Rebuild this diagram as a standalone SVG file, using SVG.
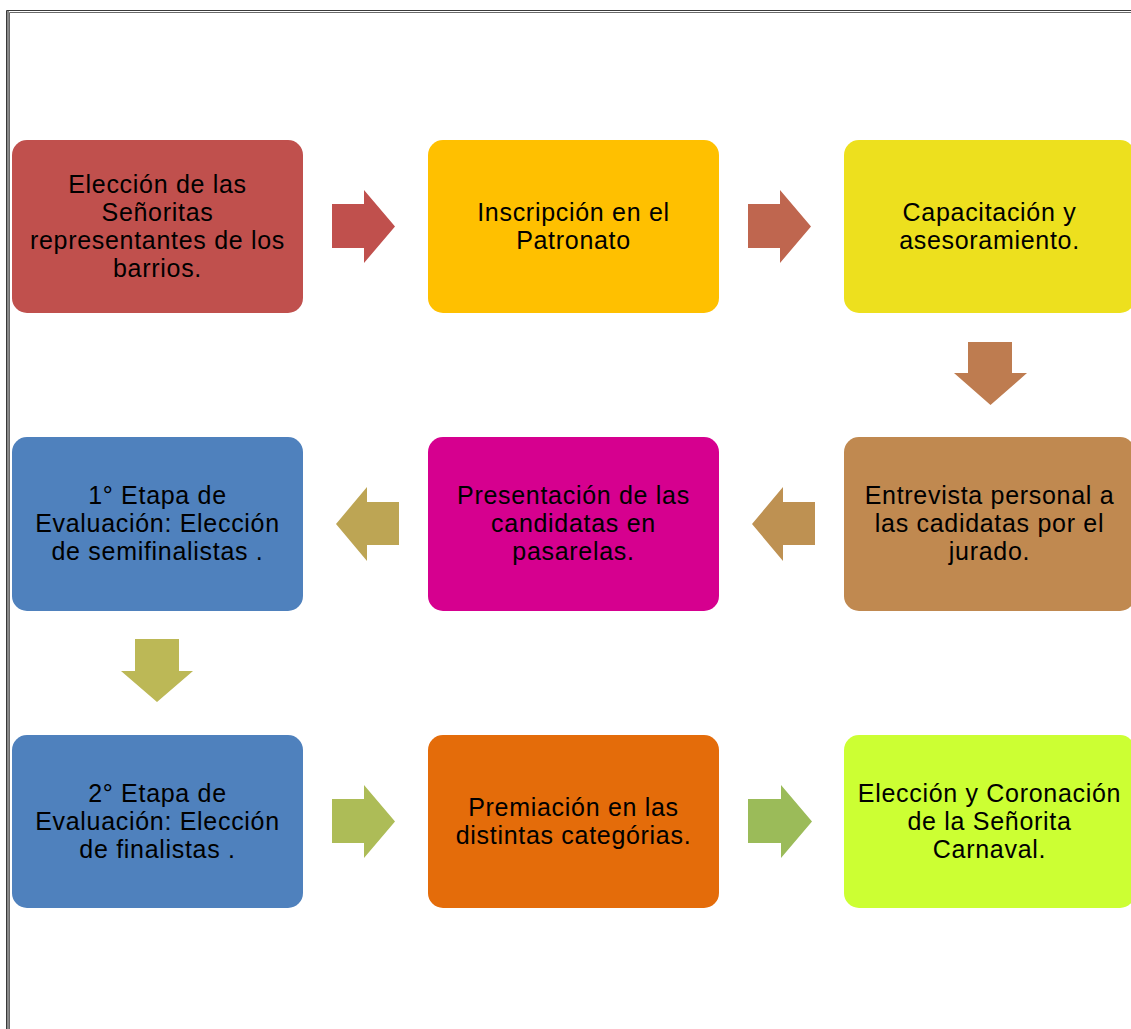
<svg xmlns="http://www.w3.org/2000/svg" width="1131" height="1029" viewBox="0 0 1131 1029">
<style>
.node rect{stroke:none}
.node text{font-family:"Liberation Sans",Arial,sans-serif;font-size:25px;letter-spacing:0.7px;fill:#000;text-anchor:middle}
.frame{fill:none}
</style>
<rect x="0" y="0" width="1131" height="1029" fill="#ffffff"/>
<g id="frame">
<rect x="7" y="11" width="2" height="1018" fill="#8a8a8a"/>
<path class="frame" d="M6.5 1029 V10.5 H1131" stroke="#3a3a3a" stroke-width="1"/>
<path class="frame" d="M9.5 1029 V12.5 H1131" stroke="#6a6a6a" stroke-width="1"/>
</g>
<g id="connectors">
<polygon fill="#C0504D" points="332,204 364,204 364,190 395,226.5 364,263 364,248 332,248"/>
<polygon fill="#BF664F" points="748,204 780,204 780,190 811,226.5 780,263 780,248 748,248"/>
<polygon fill="#BE7C50" points="968,342 1012,342 1012,373 1027,373 990.5,405 954,373 968,373"/>
<polygon fill="#BE9152" points="815,502 783,502 783,487 752,524 783,561 783,545 815,545"/>
<polygon fill="#BDA554" points="399,502 367,502 367,487 336,524 367,561 367,545 399,545"/>
<polygon fill="#BCB856" points="135,639 179,639 179,671 193,671 157,702 121,671 135,671"/>
<polygon fill="#ADBC57" points="332,799 364,799 364,785 395,821.5 364,858 364,843 332,843"/>
<polygon fill="#9BBB59" points="748,799 781,799 781,785 812,821.5 781,858 781,843 748,843"/>
</g>
<g id="n1" class="node">
<rect x="12" y="140" width="291" height="173" rx="15" fill="#C0504D"/>
<text x="157.5" y="192.5">Elección de las</text>
<text x="157.5" y="220.5">Señoritas</text>
<text x="157.5" y="248.5">representantes de los</text>
<text x="157.5" y="276.5">barrios.</text>
</g>
<g id="n2" class="node">
<rect x="428" y="140" width="291" height="173" rx="15" fill="#FFC000"/>
<text x="573.5" y="220.5">Inscripción en el</text>
<text x="573.5" y="248.5">Patronato</text>
</g>
<g id="n3" class="node">
<rect x="844" y="140" width="291" height="173" rx="15" fill="#EDE01E"/>
<text x="989.5" y="220.5">Capacitación y</text>
<text x="989.5" y="248.5">asesoramiento.</text>
</g>
<g id="n4" class="node">
<rect x="12" y="437" width="291" height="174" rx="15" fill="#4F81BD"/>
<text x="157.5" y="504">1° Etapa de</text>
<text x="157.5" y="532">Evaluación: Elección</text>
<text x="157.5" y="560">de semifinalistas .</text>
</g>
<g id="n5" class="node">
<rect x="428" y="437" width="291" height="174" rx="15" fill="#D6008F"/>
<text x="573.5" y="504">Presentación de las</text>
<text x="573.5" y="532">candidatas en</text>
<text x="573.5" y="560">pasarelas.</text>
</g>
<g id="n6" class="node">
<rect x="844" y="437" width="291" height="174" rx="15" fill="#C08950"/>
<text x="989.5" y="504">Entrevista personal a</text>
<text x="989.5" y="532">las cadidatas por el</text>
<text x="989.5" y="560">jurado.</text>
</g>
<g id="n7" class="node">
<rect x="12" y="735" width="291" height="173" rx="15" fill="#4F81BD"/>
<text x="157.5" y="801.5">2° Etapa de</text>
<text x="157.5" y="829.5">Evaluación: Elección</text>
<text x="157.5" y="857.5">de finalistas .</text>
</g>
<g id="n8" class="node">
<rect x="428" y="735" width="291" height="173" rx="15" fill="#E46C0A"/>
<text x="573.5" y="815.5">Premiación en las</text>
<text x="573.5" y="843.5">distintas categórias.</text>
</g>
<g id="n9" class="node">
<rect x="844" y="735" width="291" height="173" rx="15" fill="#CCFF33"/>
<text x="989.5" y="801.5">Elección y Coronación</text>
<text x="989.5" y="829.5">de la Señorita</text>
<text x="989.5" y="857.5">Carnaval.</text>
</g>
</svg>
